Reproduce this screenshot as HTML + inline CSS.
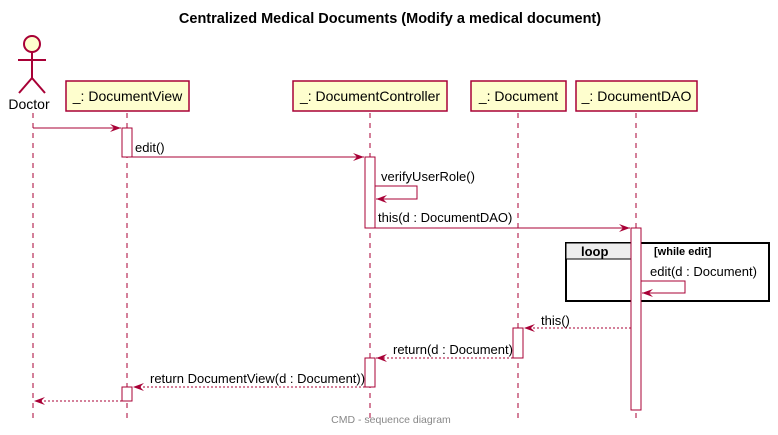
<!DOCTYPE html>
<html><head><meta charset="utf-8"><style>
html,body{margin:0;padding:0;background:#fff;}
svg{display:block;font-family:"Liberation Sans",sans-serif;}
</style></head><body>
<svg width="778" height="435" viewBox="0 0 778 435" xmlns="http://www.w3.org/2000/svg">
<defs>
<marker id="a" markerWidth="12" markerHeight="10" refX="11" refY="5" orient="auto" markerUnits="userSpaceOnUse">
<polygon points="0,1 11,5 0,9 4,5" fill="#A80036"/>
</marker>
</defs>
<text x="390" y="23" text-anchor="middle" font-size="14.5" font-weight="bold" fill="#000">Centralized Medical Documents (Modify a medical document)</text>
<g stroke="#A80036" stroke-width="1" stroke-dasharray="5,5">
<line x1="33" y1="113" x2="33" y2="418"/>
<line x1="127" y1="113" x2="127" y2="418"/>
<line x1="370" y1="113" x2="370" y2="418"/>
<line x1="518" y1="113" x2="518" y2="418"/>
<line x1="636" y1="113" x2="636" y2="418"/>
</g>
<g stroke="#A80036" stroke-width="2" fill="none">
<circle cx="32" cy="44" r="8" fill="#FEFECE"/>
<line x1="32" y1="52" x2="32" y2="78"/>
<line x1="18" y1="60" x2="46" y2="60"/>
<line x1="32" y1="78" x2="19" y2="93"/>
<line x1="32" y1="78" x2="45" y2="93"/>
</g>
<text x="29" y="109" text-anchor="middle" font-size="14">Doctor</text>
<g fill="#FEFECE" stroke="#A80036" stroke-width="1.5">
<rect x="66" y="81" width="123" height="30"/>
<rect x="293" y="81" width="154" height="30"/>
<rect x="471" y="81" width="95" height="30"/>
<rect x="576" y="81" width="121" height="30"/>
</g>
<g font-size="14" text-anchor="middle">
<text x="127.5" y="101">_: DocumentView</text>
<text x="370" y="101">_: DocumentController</text>
<text x="518.5" y="101">_: Document</text>
<text x="636.5" y="101">_: DocumentDAO</text>
</g>
<rect x="566" y="243" width="203" height="58" fill="none" stroke="#000" stroke-width="2"/>
<polygon points="566,243 640,243 640,251 632,259 566,259" fill="#EEEEEE" stroke="#000" stroke-width="1"/>
<text x="581" y="256" font-size="13" font-weight="bold">loop</text>
<text x="654" y="255" font-size="11" font-weight="bold">[while edit]</text>
<g fill="#fff" stroke="#A80036" stroke-width="1">
<rect x="122" y="128" width="10" height="29"/>
<rect x="365" y="157" width="10" height="71"/>
<rect x="631" y="228" width="10" height="182"/>
<rect x="513" y="328" width="10" height="30"/>
<rect x="365" y="358" width="10" height="29"/>
<rect x="122" y="387" width="10" height="14"/>
</g>
<g stroke="#A80036" stroke-width="1" fill="none">
<line x1="33" y1="128" x2="121" y2="128" marker-end="url(#a)"/>
<line x1="132" y1="157" x2="364" y2="157" marker-end="url(#a)"/>
<polyline points="375,186 417,186 417,199 376,199" marker-end="url(#a)"/>
<line x1="375" y1="228" x2="630" y2="228" marker-end="url(#a)"/>
<polyline points="641,281 685,281 685,293 642,293" marker-end="url(#a)"/>
<g stroke-dasharray="2,2">
<line x1="631" y1="328" x2="524" y2="328" marker-end="url(#a)"/>
<line x1="513" y1="358" x2="376" y2="358" marker-end="url(#a)"/>
<line x1="365" y1="387" x2="133" y2="387" marker-end="url(#a)"/>
<line x1="122" y1="401" x2="34" y2="401" marker-end="url(#a)"/>
</g>
</g>
<g font-size="13" fill="#000">
<text x="135" y="152">edit()</text>
<text x="381" y="181">verifyUserRole()</text>
<text x="378" y="222">this(d : DocumentDAO)</text>
<text x="650" y="276">edit(d : Document)</text>
<text x="541" y="325">this()</text>
<text x="393" y="354">return(d : Document)</text>
<text x="150" y="383">return DocumentView(d : Document))</text>
</g>
<text x="391" y="423" text-anchor="middle" font-size="10.5" fill="#888">CMD - sequence diagram</text>
</svg>
</body></html>
